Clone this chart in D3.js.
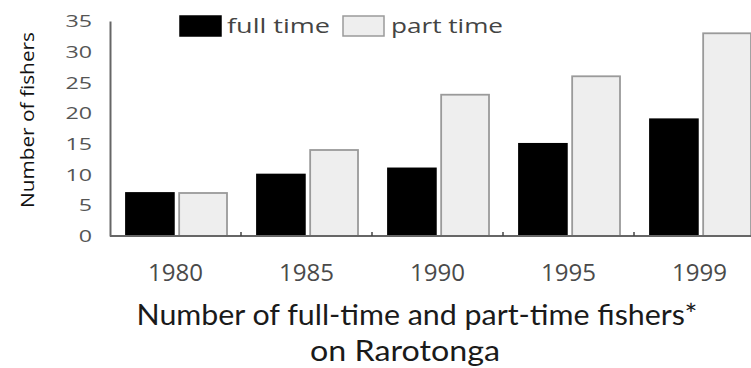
<!DOCTYPE html>
<html>
<head>
<meta charset="utf-8">
<script src="https://cdn.jsdelivr.net/npm/d3@7"></script>
<style>
  html, body { margin: 0; padding: 0; background: #fff; }
  svg { display: block; }
</style>
</head>
<body>
<svg id="chart" width="751" height="368"></svg>
<script>
// Fishers on Rarotonga, by survey year
const years = ["1980", "1985", "1990", "1995", "1999"];
const series = ["full time", "part time"];
const fullTime = [7, 10, 11, 15, 19];
const partTime = [7, 14, 23, 26, 33];
const yTicks = [0, 5, 10, 15, 20, 25, 30, 35];
const yTitle = "Number of fishers";
const titleLines = ["Number of full-time and part-time fishers*", "on Rarotonga"];

const svg = d3.select("#chart");

const x0 = 110, plotRight = 765;
const x = d3.scaleBand().domain(years).range([x0, plotRight]);
const xs = d3.scaleBand().domain(series).range([16, 117]).paddingInner(0.1);
const y = d3.scaleLinear().domain([0, 35]).range([236, 21]);

const fills = { "full time": "#000", "part time": "#eeeeee" };
const strokes = { "full time": "#000", "part time": "#9a9a9a" };

const rows = years.map((yr, i) => ({ year: yr, values: [
  { key: "full time", value: fullTime[i] },
  { key: "part time", value: partTime[i] }
]}));

// bars
const groups = svg.append("g").selectAll("g").data(rows).join("g")
  .attr("transform", d => `translate(${x(d.year)},0)`);
groups.selectAll("rect").data(d => d.values).join("rect")
  .attr("x", d => xs(d.key))
  .attr("width", xs.bandwidth())
  .attr("y", d => y(d.value))
  .attr("height", d => y(0) - y(d.value))
  .attr("fill", d => fills[d.key])
  .attr("stroke", d => strokes[d.key])
  .attr("stroke-width", 1.8);

// x axis: baseline, boundary ticks, year labels
const xAxis = svg.append("g").attr("transform", `translate(0,${y(0)})`)
  .call(d3.axisBottom(x).tickSize(0).tickFormat(""));
xAxis.select(".domain").remove();
xAxis.append("line").attr("x1", x0).attr("x2", 751).attr("y1", 0).attr("y2", 0)
  .attr("stroke", "#666").attr("stroke-width", 2);
xAxis.selectAll(".bound").data(years.slice(1)).join("line")
  .attr("class", "bound")
  .attr("x1", d => x(d)).attr("x2", d => x(d))
  .attr("y1", 0).attr("y2", -4)
  .attr("stroke", "#444").attr("stroke-width", 1.5);
xAxis.selectAll(".yr").data(years).join("text")
  .attr("class", "yr")
  .attr("x", d => x(d) + x.bandwidth() / 2)
  .attr("y", 45)
  .attr("text-anchor", "middle")
  .attr("font-family", "'Open Sans', sans-serif")
  .attr("font-size", 24)
  .attr("fill", "#4a4a4a")
  .attr("textLength", 55)
  .attr("lengthAdjust", "spacingAndGlyphs")
  .text(d => d);

// y axis
const yAxis = svg.append("g").attr("transform", `translate(${x0},0)`)
  .call(d3.axisLeft(y).tickValues(yTicks).tickSize(0).tickFormat(""));
yAxis.select(".domain").attr("stroke", "#666").attr("stroke-width", 2);
yAxis.selectAll(".ylab").data(yTicks).join("text")
  .attr("class", "ylab")
  .attr("x", -18)
  .attr("y", d => y(d))
  .attr("dy", "0.36em")
  .attr("text-anchor", "end")
  .attr("font-family", "'Open Sans', sans-serif")
  .attr("font-size", 17)
  .attr("fill", "#555")
  .attr("textLength", d => String(d).length * 13.3)
  .attr("lengthAdjust", "spacingAndGlyphs")
  .text(d => d);

svg.append("text")
  .attr("transform", "translate(34,120) rotate(-90)")
  .attr("text-anchor", "middle")
  .attr("font-family", "'Open Sans', sans-serif")
  .attr("font-size", 19)
  .attr("fill", "#111")
  .attr("textLength", 176)
  .attr("lengthAdjust", "spacingAndGlyphs")
  .text(yTitle);

// legend
const legend = svg.append("g");
const legendItems = [
  { key: "full time", sx: 180, tx: 227, tw: 103 },
  { key: "part time", sx: 343, tx: 391, tw: 112 }
];
legend.selectAll("rect").data(legendItems).join("rect")
  .attr("x", d => d.sx).attr("y", 16)
  .attr("width", 41).attr("height", 20)
  .attr("fill", d => fills[d.key])
  .attr("stroke", d => strokes[d.key])
  .attr("stroke-width", 1.5);
legend.selectAll("text").data(legendItems).join("text")
  .attr("x", d => d.tx).attr("y", 33)
  .attr("font-family", "'Open Sans', sans-serif")
  .attr("font-size", 20)
  .attr("fill", "#444")
  .attr("textLength", d => d.tw)
  .attr("lengthAdjust", "spacingAndGlyphs")
  .text(d => d.key);

// caption
const captionWidths = [561, 190];
const captionX = [417, 405];
svg.append("g").selectAll("text").data(titleLines).join("text")
  .attr("x", (d, i) => captionX[i])
  .attr("y", (d, i) => 325 + i * 36)
  .attr("text-anchor", "middle")
  .attr("font-family", "Lato, sans-serif")
  .attr("font-size", 29)
  .attr("fill", "#1a1a1a")
  .attr("textLength", (d, i) => captionWidths[i])
  .attr("lengthAdjust", "spacingAndGlyphs")
  .text(d => d);
</script>
</body>
</html>
